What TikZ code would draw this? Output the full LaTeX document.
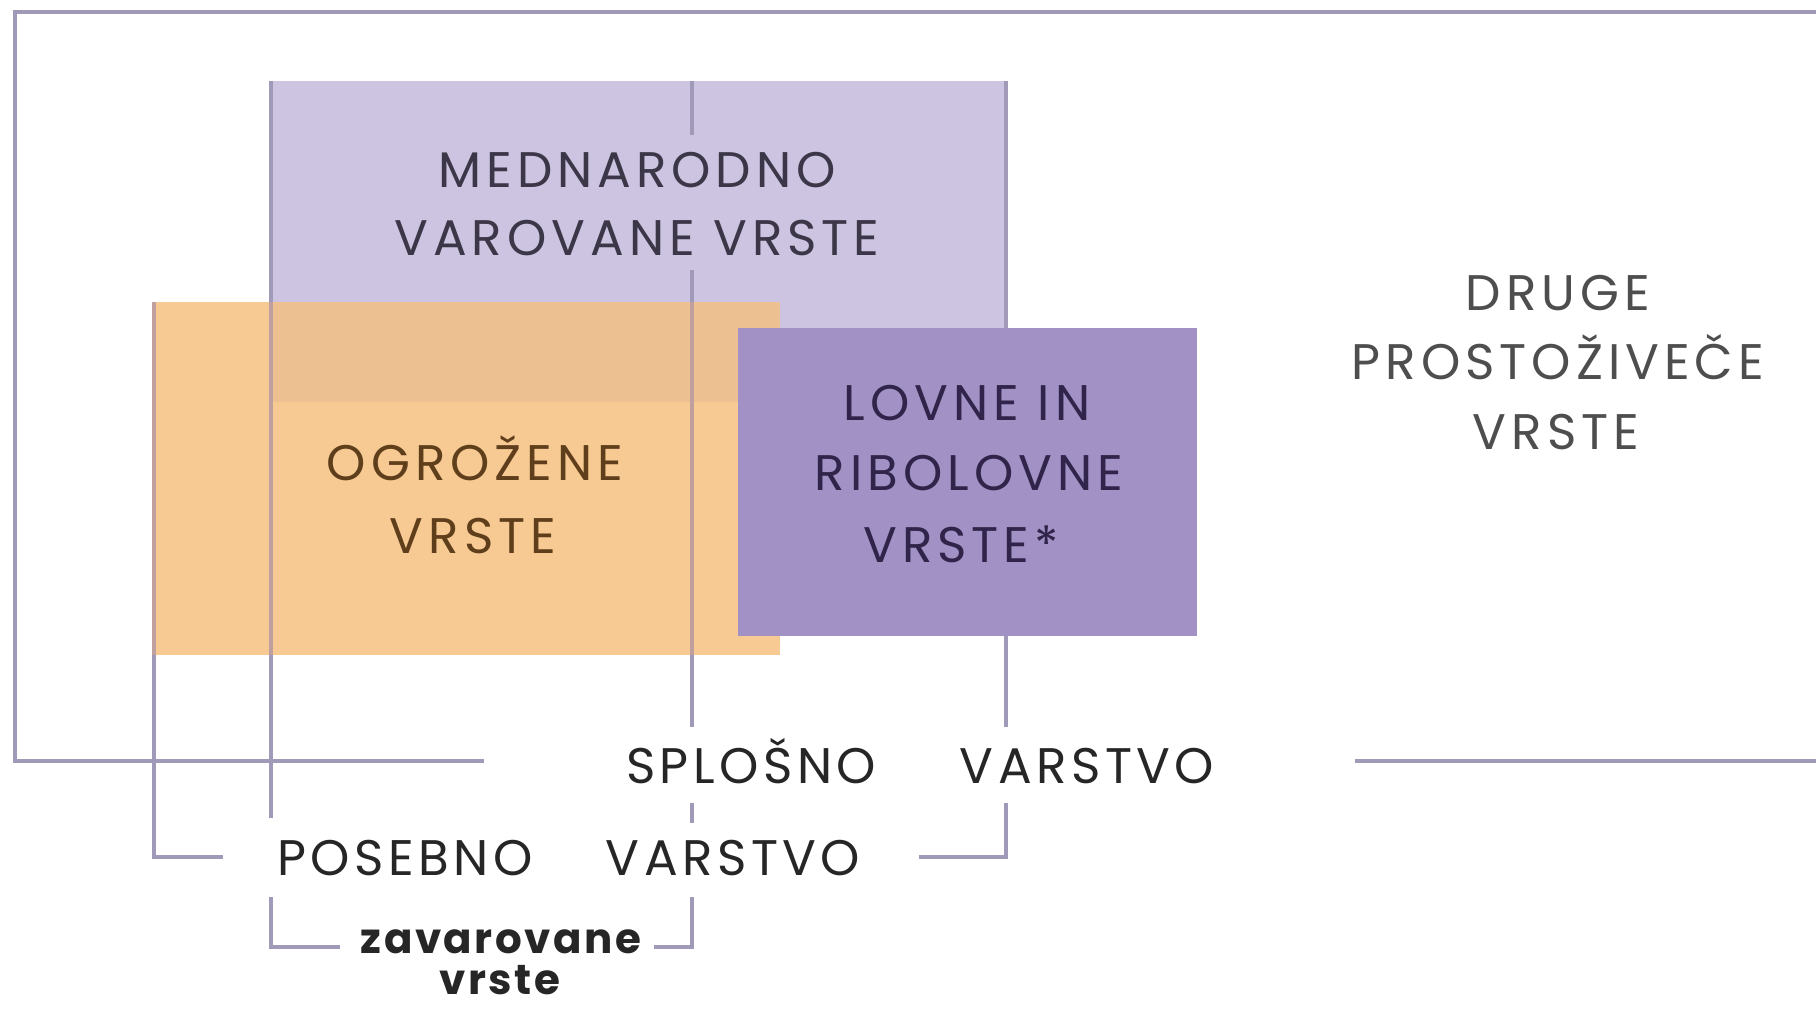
\documentclass[tikz,border=0pt]{standalone}
\usepackage{fontspec}
\setmainfont{Poppins}
\newfontfamily\capfont[LetterSpace=10]{Poppins}
\newfontfamily\wideFont[LetterSpace=9]{Poppins}
\newfontfamily\smallbold[LetterSpace=6]{Poppins}
\definecolor{lav}{RGB}{204,196,224}
\definecolor{orng}{RGB}{246,202,146}
\definecolor{ovl}{RGB}{237,192,145}
\definecolor{dpur}{RGB}{161,145,196}
\definecolor{lc}{RGB}{160,154,184}
\definecolor{lco}{RGB}{192,160,158}
\definecolor{medtext}{RGB}{60,55,72}
\definecolor{ogrtext}{RGB}{95,62,28}
\definecolor{lovtext}{RGB}{48,36,74}
\definecolor{drugtext}{RGB}{78,78,78}
\definecolor{bottext}{RGB}{38,38,38}
\tikzset{
  ln/.style={draw=lc, line width=2.2pt},
  lno/.style={draw=lco, line width=2.2pt},
  big/.style={anchor=base, inner sep=0pt, font=\capfont\fontsize{25}{30}\selectfont},
  bot/.style={anchor=base, inner sep=0pt, text=bottext, font=\wideFont\fontsize{25}{30}\selectfont},
  zav/.style={anchor=base, inner sep=0pt, text=bottext, font=\smallbold\bfseries\fontsize{21}{26}\selectfont}
}
\begin{document}
\begin{tikzpicture}[x=0.5pt,y=-0.5pt]
\useasboundingbox (0,0) rectangle (1816,1011);
\fill[white] (0,0) rectangle (1816,1011);
% boxes
\fill[lav] (270,81) rectangle (1006,402);
\fill[orng] (154,302) rectangle (780,655);
\fill[ovl] (270,302) rectangle (780,402);
% named corner coordinates
\coordinate (otl) at (15,12);
\coordinate (otr) at (1816,12);
\coordinate (obl) at (15,761);
\coordinate (obr) at (1816,761);
\coordinate (ob1) at (484,761);
\coordinate (ob2) at (1355,761);
% outer frame
\draw[ln] (otr) -- (otl) -- (obl) -- (ob1);
\draw[ln] (ob2) -- (obr);
% left bracket of orange (posebno varstvo)
\coordinate (a1) at (154,655);
\coordinate (a2) at (154,857);
\coordinate (a3) at (223,857);
\draw[lno] (154,302) -- (a1);
\draw[ln] (a1) -- (a2) -- (a3);
% lavender left edge
\draw[ln] (271,81) -- (271,302);
\draw[lno] (271,302) -- (271,655);
\draw[ln] (271,655) -- (271,818);
% zavarovane bracket
\coordinate (z1) at (271,897);
\coordinate (z2) at (271,947);
\coordinate (z3) at (340,947);
\coordinate (z4) at (654,947);
\coordinate (z5) at (692,947);
\coordinate (z6) at (692,897);
\draw[ln] (z1) -- (z2) -- (z3);
\draw[ln] (z4) -- (z5) -- (z6);
% centre line
\draw[ln] (692,81) -- (692,135);
\draw[ln] (692,270) -- (692,302);
\draw[lno] (692,302) -- (692,655);
\draw[ln] (692,655) -- (692,727);
\draw[ln] (692,803) -- (692,823);
% lavender right edge
\draw[ln] (1006,81) -- (1006,330);
\draw[ln] (1006,634) -- (1006,727);
\draw[ln] (1006,803) -- (1006,857) -- (919,857);
% dark purple box
\fill[dpur] (738,328) rectangle (1197,636);
% texts
\node[big, text=medtext] (m1) at (637,187) {MEDNARODNO};
\node[big, text=medtext] (m2) at (637,255) {VAROVANE VRSTE};
\node[big, text=ogrtext] (o1) at (475,480) {OGROŽENE};
\node[big, text=ogrtext] (o2) at (473,553) {VRSTE};
\node[big, text=lovtext] (l1) at (967,420) {LOVNE IN};
\node[big, text=lovtext] (l2) at (969,490) {RIBOLOVNE};
\node[big, text=lovtext] (l3) at (961,562) {VRSTE*};
\node[big, text=drugtext] (d1) at (1558,310) {DRUGE};
\node[big, text=drugtext] (d2) at (1558,379) {PROSTOŽIVEČE};
\node[big, text=drugtext] (d3) at (1556,449) {VRSTE};
\node[bot] (s1) at (751,783) {SPLOŠNO};
\node[bot] (s2) at (1087,783) {VARSTVO};
\node[bot] (p1) at (405,875) {POSEBNO};
\node[bot] (p2) at (733,875) {VARSTVO};
\node[zav] (zv1) at (501,953) {zavarovane};
\node[zav] (zv2) at (500,994) {vrste};
\end{tikzpicture}
\end{document}
